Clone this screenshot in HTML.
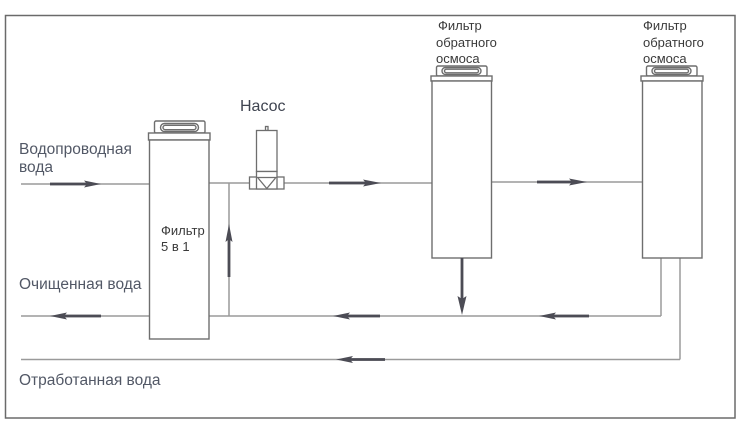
<!DOCTYPE html>
<html><head><meta charset="utf-8"><style>
html,body{margin:0;padding:0;background:#fff;}
svg{display:block;}
text{font-family:"Liberation Sans",sans-serif;}
</style></head><body>
<svg width="741" height="426" viewBox="0 0 741 426" xmlns="http://www.w3.org/2000/svg">
<rect x="0" y="0" width="741" height="426" fill="#fff"/>
<!-- frame -->
<rect x="5.5" y="15.5" width="729.5" height="402.5" fill="none" stroke="#6a6a6a" stroke-width="1.5"/>

<!-- pipes -->
<g stroke="#9a9a9a" stroke-width="1.5" fill="none">
  <line x1="21" y1="184" x2="149" y2="184"/>
  <line x1="209" y1="183" x2="249" y2="183"/>
  <line x1="284" y1="183" x2="432" y2="183"/>
  <line x1="492" y1="182" x2="642" y2="182"/>
  <line x1="229" y1="183" x2="229" y2="316"/>
  <line x1="21" y1="316" x2="149" y2="316"/>
  <line x1="209" y1="316" x2="661" y2="316"/>
  <line x1="661" y1="258" x2="661" y2="316"/>
  <line x1="21" y1="359.5" x2="680" y2="359.5"/>
  <line x1="680" y1="258" x2="680" y2="359.5"/>
</g>

<!-- filter 5in1 -->
<g stroke="#6e6e6e" stroke-width="1.4" fill="#fff">
  <rect x="154.5" y="121" width="50.5" height="12" rx="1.5"/>
  <rect x="160.5" y="123.5" width="38" height="8" rx="4"/>
  <rect x="163" y="125.3" width="33" height="4.4" rx="2.2"/>
  <rect x="148.5" y="133" width="61.5" height="7"/>
  <rect x="149.5" y="140" width="59.5" height="199"/>
</g>

<!-- RO filter 1 -->
<g stroke="#6e6e6e" stroke-width="1.4" fill="#fff">
  <rect x="436.5" y="66" width="50.5" height="10" rx="1.5"/>
  <rect x="442" y="67.5" width="39" height="7" rx="3.5"/>
  <rect x="444.5" y="69.2" width="34" height="3.6" rx="1.8"/>
  <rect x="431" y="76" width="61" height="5"/>
  <rect x="432" y="81" width="59.5" height="177"/>
</g>
<!-- RO filter 2 -->
<g stroke="#6e6e6e" stroke-width="1.4" fill="#fff">
  <rect x="646.5" y="66" width="50.5" height="10" rx="1.5"/>
  <rect x="652" y="67.5" width="39" height="7" rx="3.5"/>
  <rect x="654.5" y="69.2" width="34" height="3.6" rx="1.8"/>
  <rect x="641" y="76" width="62" height="5"/>
  <rect x="642.5" y="81" width="59.5" height="177"/>
</g>

<!-- pump -->
<g stroke="#6e6e6e" stroke-width="1.3" fill="#fff">
  <rect x="265.5" y="126.5" width="2.5" height="4"/>
  <rect x="256.5" y="130.5" width="20.5" height="41"/>
  <rect x="249.5" y="177" width="34.5" height="12"/>
  <rect x="256.5" y="171.5" width="20.5" height="17.5"/>
  <line x1="256.5" y1="177.5" x2="277" y2="177.5"/>
  <polyline points="258,178 266.8,188.5 275.5,178" fill="none"/>
</g>

<!-- arrows -->
<g fill="#4c4c55" stroke="none">
  <!-- input right -->
  <rect x="50" y="182.6" width="38" height="2.8"/>
  <polygon points="84,180.5 101,184 84,187.5 87,184"/>
  <!-- main right -->
  <rect x="329" y="181.6" width="38" height="2.8"/>
  <polygon points="363,179.5 381,183 363,186.5 366,183"/>
  <!-- between RO -->
  <rect x="537" y="180.6" width="36" height="2.8"/>
  <polygon points="569,178.5 587,182 569,185.5 572,182"/>
  <!-- up -->
  <rect x="227.6" y="238" width="2.8" height="39"/>
  <polygon points="225.5,242 229,224 232.5,242 229,239"/>
  <!-- down -->
  <rect x="460.6" y="258" width="2.8" height="42"/>
  <polygon points="457.5,296 462,315 466.5,296 462,299"/>
  <!-- clean left arrows -->
  <rect x="64" y="314.6" width="37" height="2.8"/>
  <polygon points="67,312.5 50,316 67,319.5 64,316"/>
  <rect x="346" y="314.6" width="34" height="2.8"/>
  <polygon points="350,312.5 333,316 350,319.5 347,316"/>
  <rect x="553" y="314.6" width="36" height="2.8"/>
  <polygon points="556,312.5 539,316 556,319.5 553,316"/>
  <!-- waste left -->
  <rect x="349" y="358.1" width="36" height="2.8"/>
  <polygon points="353,356 336,359.5 353,363 350,359.5"/>
</g>

<!-- labels -->
<g fill="#525866" font-size="15.5">
  <text x="19" y="154">Водопроводная</text>
  <text x="19" y="172">вода</text>
  <text x="19" y="289">Очищенная вода</text>
  <text x="19" y="385">Отработанная вода</text>
</g>
<text x="240" y="111" fill="#3f4450" font-size="16">Насос</text>
<g fill="#3a3a3a" font-size="13">
  <text x="161" y="235">Фильтр</text>
  <text x="161" y="251">5 в 1</text>
  <text x="438" y="30">Фильтр</text>
  <text x="436" y="47">обратного</text>
  <text x="436" y="63">осмоса</text>
  <text x="643" y="30">Фильтр</text>
  <text x="643" y="47">обратного</text>
  <text x="643" y="63">осмоса</text>
</g>
</svg>
</body></html>
